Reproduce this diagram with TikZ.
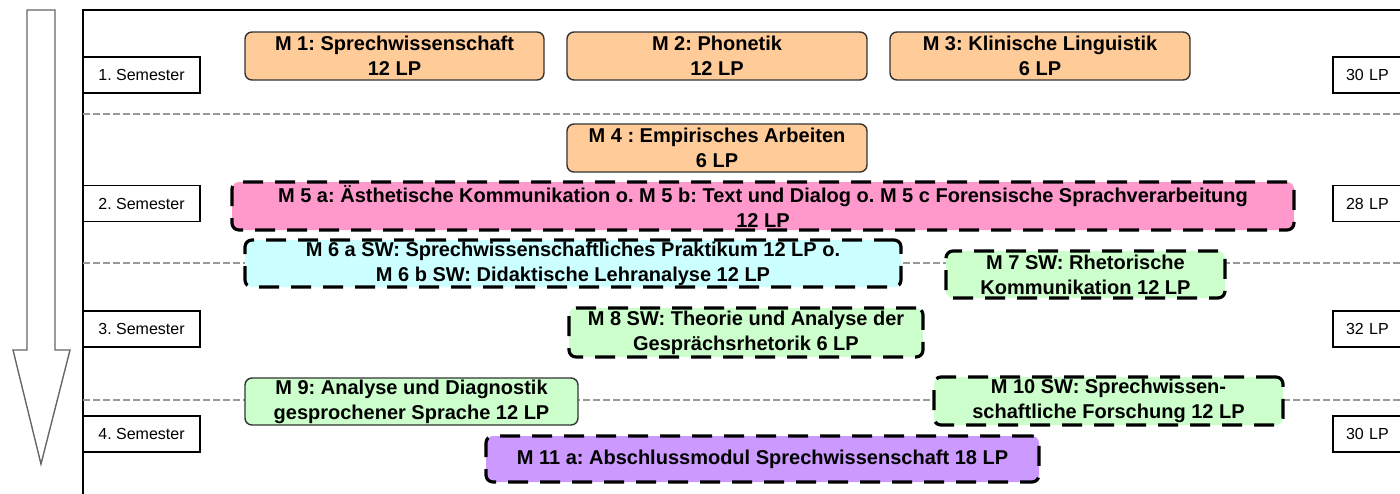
\documentclass[tikz,border=0pt]{standalone}
\usepackage{fontspec}
\setmainfont{Liberation Sans}
\definecolor{orangefill}{HTML}{FFCC99}
\definecolor{pinkfill}{HTML}{FF99CC}
\definecolor{cyanfill}{HTML}{CCFFFF}
\definecolor{greenfill}{HTML}{CCFFCC}
\definecolor{purplefill}{HTML}{CC99FF}
\frenchspacing
\begin{document}
\begin{tikzpicture}[x=1pt ,y=-1pt ,
modul/.style ={ rectangle ,rounded corners =7pt ,draw =black!80 ,line width =1.4pt ,
inner sep =0pt ,align =center ,font =\bfseries\fontsize{20}{25}\selectfont},
wahl/.style ={ modul ,draw =black ,line width =3.2pt ,dash pattern =on 20pt off 12pt},
semester/.style ={ rectangle ,draw ,line width =1.5pt ,inner sep =0pt ,
minimum width =117pt ,minimum height =36pt ,font =\fontsize{16}{18}\selectfont},
lp/.style ={ semester ,minimum width =82pt ,text width =56pt ,align =left},
trenner/.style ={ draw =black!40 ,line width =1.3pt ,dash pattern =on 7pt off 3pt}]
\clip (0,0) rectangle (1400,493);
% Zeitpfeil
\draw[black!60 ,line width =1.4pt] (27,10) -- (55,10) -- (55,350) -- (70,350)
  -- (41,464) -- (13,350) -- (27,350) -- cycle;
% Rahmen
\draw[line width =2pt] (1410,10) -- (83,10) -- (83,500);
\draw[trenner] (83,114) -- (1400,114);
\draw[trenner] (83,263) -- (1400,263);
\draw[trenner] (83,400) -- (1400,400);
% Semester
\node[semester] (S1) at (141.5,75) {1. Semester};
\node[semester] (S2) at (141.5,203.5) {2. Semester};
\node[semester] (S3) at (141.5,329) {3. Semester};
\node[semester] (S4) at (141.5,434) {4. Semester};
\node[lp] (L1) at (1374,75) {30 LP};
\node[lp] (L2) at (1374,203.5) {28 LP};
\node[lp] (L3) at (1374,329) {32 LP};
\node[lp] (L4) at (1374,434) {30 LP};
% Module
\node[modul ,fill =orangefill ,minimum width =299pt ,minimum height =48pt] (M1) at (394.5,56)
  {M 1: Sprechwissenschaft\\12 LP};
\node[modul ,fill =orangefill ,minimum width =300pt ,minimum height =48pt] (M2) at (717,56)
  {M 2: Phonetik\\12 LP};
\node[modul ,fill =orangefill ,minimum width =300pt ,minimum height =48pt] (M3) at (1040,56)
  {M 3: Klinische Linguistik\\6 LP};
\node[modul ,fill =orangefill ,minimum width =300pt ,minimum height =48pt] (M4) at (717,148)
  {M 4 : Empirisches Arbeiten\\6 LP};
\node[wahl ,fill =pinkfill ,minimum width =1062pt ,minimum height =48pt] (M5) at (763,206)
  {M 5 a: Ästhetische Kommunikation o. M 5 b: Text und Dialog o. M 5 c Forensische Sprachverarbeitung\\12 LP};
\node[wahl ,fill =cyanfill ,minimum width =656pt ,minimum height =47pt] (M6) at (573,263.5)
  {M 6 a SW: Sprechwissenschaftliches Praktikum 12 LP o.\\M 6 b SW: Didaktische Lehranalyse 12 LP};
\node[wahl ,fill =greenfill ,minimum width =279pt ,minimum height =47pt] (M7) at (1085.5,274.5)
  {M 7 SW: Rhetorische\\Kommunikation 12 LP};
\node[wahl ,fill =greenfill ,minimum width =354pt ,minimum height =49pt] (M8) at (746,332.5)
  {M 8 SW: Theorie und Analyse der\\Gesprächsrhetorik 6 LP};
\node[modul ,fill =greenfill ,minimum width =333pt ,minimum height =47pt] (M9) at (411.5,401.5)
  {M 9: Analyse und Diagnostik\\gesprochener Sprache 12 LP};
\node[wahl ,fill =greenfill ,minimum width =349pt ,minimum height =48pt] (M10) at (1108.5,401)
  {M 10 SW: Sprechwissen-\\schaftliche Forschung 12 LP};
\node[wahl ,fill =purplefill ,minimum width =553pt ,minimum height =46pt] (M11) at (762.5,459)
  {M 11 a: Abschlussmodul Sprechwissenschaft 18 LP};
\end{tikzpicture}
\end{document}
